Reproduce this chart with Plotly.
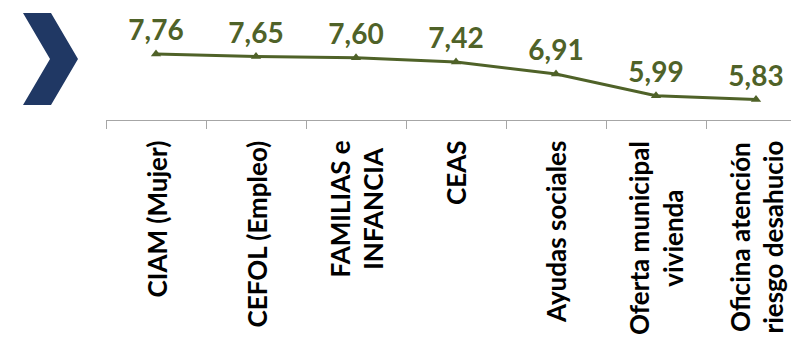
import plotly.graph_objects as go

categories = ["CIAM (Mujer)", "CEFOL (Empleo)", "FAMILIAS e<br>INFANCIA", "CEAS",
              "Ayudas sociales", "Oferta municipal<br>vivienda",
              "Oficina atención<br>riesgo desahucio"]
values = [7.76, 7.65, 7.60, 7.42, 6.91, 5.99, 5.83]

W, H = 791, 343
ML, MT, MB, MR = 106, 0, 223, 0
PW, PH = W - ML - MR, H - MT - MB

GREEN = "#4F6228"

fig = go.Figure()
fig.add_trace(go.Scatter(
    x=categories, y=values,
    mode="lines+markers+text",
    line=dict(color=GREEN, width=3),
    marker=dict(symbol="triangle-up", size=9, color=GREEN),
    texttemplate="%{y:.2f}", textposition="top center",
    textfont=dict(family="Lato", size=28, color=GREEN, weight="bold"),
    cliponaxis=False,
    hoverinfo="skip",
))

def px(x):
    return (x - ML) / PW

def py(y):
    return 1 - (y - MT) / PH

chev = [(23, 13), (51, 13), (78, 59), (51, 105), (23, 105), (50, 59)]
path = "M " + " L ".join(f"{px(a)} {py(b)}" for a, b in chev) + " Z"
fig.add_shape(type="path", path=path, xref="paper", yref="paper",
              fillcolor="#203864", line=dict(width=0), layer="above")

# category labels (rotated, lines centred as in the original)
for cat in categories:
    fig.add_annotation(
        x=cat, xref="x", y=py(140), yref="paper",
        text=cat, showarrow=False, textangle=-90,
        xanchor="center", yanchor="top", align="center",
        font=dict(family="Lato", size=26, color="black", weight="bold"),
        borderpad=0,
    )

fig.update_layout(
    width=W, height=H,
    margin=dict(l=ML, r=MR, t=MT, b=MB, pad=0),
    plot_bgcolor="white", paper_bgcolor="white",
    separators=",.",
    showlegend=False,
    xaxis=dict(
        type="category",
        range=[-0.5, 6.35],
        showticklabels=False,
        showline=True, linecolor="#A6A6A6", linewidth=1,
        ticks="outside", ticklen=8, tickcolor="#A6A6A6", tickson="boundaries",
        showgrid=False, zeroline=False, automargin=False,
    ),
    yaxis=dict(range=[4.96, 10.05], visible=False, showgrid=False, zeroline=False),
)

fig.write_html("out.html")
